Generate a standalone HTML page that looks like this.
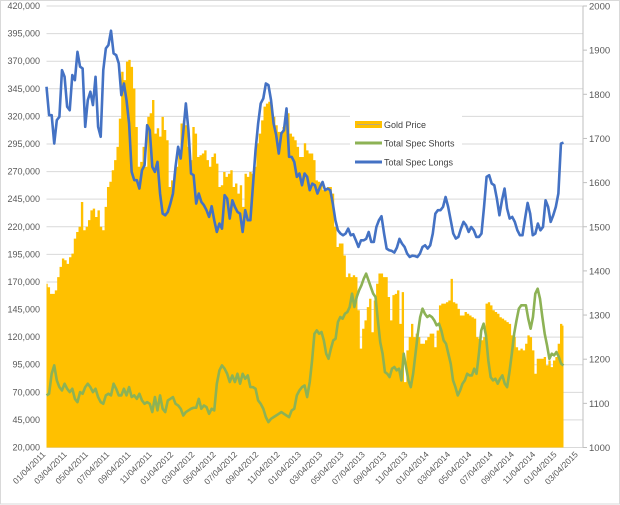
<!DOCTYPE html>
<html><head><meta charset="utf-8"><style>
html,body{margin:0;padding:0;background:#fff;}
svg{display:block;font-family:"Liberation Sans",sans-serif;}
</style></head><body>
<svg id="chart" width="620" height="505" viewBox="0 0 620 505" xmlns="http://www.w3.org/2000/svg">
<rect x="0.5" y="0.5" width="619" height="503.5" fill="#fff" stroke="#d9d9d9"/>
<g id="grid"></g>
<g id="gold"></g>
<g id="lines"></g>
<g id="axes"></g>
<g>
<rect x="350" y="113" width="112" height="58" fill="#fff"/>
<g><rect x="355" y="121" width="27" height="7" fill="#FFC000"/><line x1="357" y1="124.5" x2="380" y2="124.5" stroke="#a5a5a5" stroke-width="0.8"/><text x="384" y="128" font-size="9" fill="#404040">Gold Price</text></g>
<g><line x1="355" y1="143" x2="382" y2="143" stroke="#8DB255" stroke-width="3"/><text x="384" y="146.5" font-size="9" fill="#404040">Total Spec Shorts</text></g>
<g><line x1="355" y1="162" x2="382" y2="162" stroke="#4472C4" stroke-width="3"/><text x="384" y="165.5" font-size="9" fill="#404040">Total Spec Longs</text></g>
</g>
</svg>
<script>
// Values: positions in thousands of contracts (left axis), gold in USD (right axis)
const leftTicks = [20,45,70,95,120,145,170,195,220,245,270,295,320,345,370,395,420];
const rightTicks = [1000,1100,1200,1300,1400,1500,1600,1700,1800,1900,2000];
const xLabels = ["01/04/2011","03/04/2011","05/04/2011","07/04/2011","09/04/2011","11/04/2011","01/04/2012","03/04/2012","05/04/2012","07/04/2012","09/04/2012","11/04/2012","01/04/2013","03/04/2013","05/04/2013","07/04/2013","09/04/2013","11/04/2013","01/04/2014","03/04/2014","05/04/2014","07/04/2014","09/04/2014","11/04/2014","01/04/2015","03/04/2015"];
const totalWeeks = 218, splitWeek = 111;
const longsEarly = [346.8,321.1,321.1,295.4,316.6,319.6,361.9,355.9,328.7,325.6,357.4,352.8,378.5,365,363.4,310.5,334.7,342.3,330.2,355.9,310.5,301.5,361.9,381.6,384.6,397.6,377,375.5,368,339.2,349.8,334.7,313.5,269.7,262.2,262.2,254.6,271.2,275.8,312,307.5,274.3,269.7,278.8,250.1,231.9,230.4,233.4,241,250.1,274.3,292.4,281.8,306,331.7,307.5,268.2,266.7,241,250.1,242.5,239.5,235,228.9,238.6,225.9,215.3,222.9,218.3,248.6,245.5,227.4,244,238,233.4,231.9,215.3,235,225.9,225.9,257.6,289.4,313.5,331.7,336.2,349.8,348.3,334.7,313.5,303,286.3,304.5,307.5,327.2,283.3,283.3,278.8,265.2,268.2,257.6,268.2,265.2,253.1];
const longsLate = [263.7,259.1,257.6,250.1,256.1,260.6,253.1,254.6,253.1,241,225.9,216.8,213.8,212.3,213.8,218.3,212.3,213.2,207.7,201.7,207.7,207.7,209,215.3,206.2,206.2,219.8,225.9,229.5,213.8,200.2,198.7,198.1,196.6,201.1,209,204.7,201.7,195.7,192.6,193.8,193.5,192.6,195.7,201.7,203.2,200.2,203.2,213.8,231.9,235,235,238,247,238,225.9,213.8,209.3,210.8,218.3,224.4,221.3,215.3,219.8,216.8,210.8,210.8,213.8,238,265.2,266.7,259.1,257.6,245.5,230.4,244,254.6,236.5,227.4,228.9,224.4,216.8,212.3,212.3,227.4,241.6,231.9,212.3,213.8,222.9,216.8,219.8,244,238,224.4,230.4,238,250.1,295.4,296.3];
const shortsEarly = [67.2,68.7,86.8,94.4,80.8,74.7,71.7,77.8,73.2,70.2,73.2,64.1,61.1,70.2,68.7,74.7,77.8,74.7,70.2,73.2,65.7,61.1,59.6,67.2,68.7,67.2,77.8,73.2,67.2,67.2,73.2,67.2,74.7,65.7,67.2,64.1,68.7,62.6,59.6,61.1,59.6,52.1,65.7,53.6,67.2,55.1,52.1,62.6,64.1,65.7,59.6,58.1,55.1,49,52.1,53.6,55.1,56,56,64.1,55.1,58.1,56.6,50.5,55.1,53.6,77.8,89.8,94.4,91.4,86.8,79.3,85.3,79.3,86.8,77.8,86.8,82.3,85.3,74.7,74.7,73.2,62.6,59.6,55.1,47.5,43,46,47.5,49,50.5,52.1,50.5,49,47.5,53.6,55.1,67.2,71.7,74.7,76.2,65.7,79.3];
const shortsLate = [80.8,98.9,123.1,126.1,123.1,124.6,117,105,100.4,109.5,117,118.6,133.7,138.2,136.7,141.2,142.7,147.3,159.4,147.3,156.4,162.4,166.9,173,177.5,171.5,165.4,159.4,156.4,135.2,115.5,105,88.3,86.8,83.8,91.4,92.9,89.9,91.4,80.8,105,92.9,80.8,74.7,86.8,105,123.1,138.2,145.8,141.2,138.2,139.7,138.2,135.2,130.7,132.2,126.1,117,114,105,95.9,80.8,74.7,67.2,71.7,77.8,80.8,86.8,85.3,85.3,91.4,86.8,105,126.1,132.2,121.6,98.9,83.8,80.8,82.3,77.8,82.3,85.3,77.8,74.7,88.3,105,123.1,135.2,145.8,148.8,148.8,148.8,136.7,127.6,138.2,159.4,163.9,154.8,138.2,123.1,112.5,100.4,105,103.5,106.5,102,95.9,94.4];
const goldEarly = [1371,1363,1348,1348,1356,1386,1409,1428,1424,1416,1431,1439,1473,1488,1500,1556,1492,1500,1515,1537,1541,1522,1537,1500,1492,1545,1590,1602,1628,1651,1681,1745,1851,1832,1874,1878,1862,1813,1726,1636,1647,1681,1636,1749,1757,1787,1711,1723,1704,1749,1719,1696,1590,1605,1620,1636,1666,1734,1741,1730,1681,1651,1726,1711,1658,1662,1666,1673,1651,1636,1658,1666,1643,1590,1594,1624,1613,1620,1628,1590,1598,1575,1594,1545,1620,1613,1624,1620,1636,1689,1711,1741,1772,1779,1783,1775,1749,1730,1715,1715,1726,1753,1757,1711,1704,1696,1681,1658,1658,1689,1673,1666];
const goldLate = [1670,1666,1651,1605,1602,1598,1583,1586,1590,1590,1575,1500,1454,1462,1462,1435,1386,1394,1386,1390,1386,1311,1224,1269,1288,1318,1337,1261,1333,1371,1394,1394,1386,1386,1341,1288,1345,1348,1356,1280,1352,1148,1220,1250,1280,1250,1258,1250,1235,1235,1243,1250,1258,1258,1227,1265,1322,1326,1326,1329,1333,1382,1329,1326,1314,1299,1299,1307,1303,1299,1295,1292,1250,1246,1243,1250,1326,1329,1322,1311,1307,1303,1295,1292,1288,1284,1280,1254,1250,1227,1220,1224,1220,1235,1254,1250,1220,1167,1201,1201,1201,1205,1186,1197,1182,1197,1205,1235,1280,1276];

const NS = "http://www.w3.org/2000/svg";
const X0 = 46.5, X1 = 563.5, PR = 583, YT = 6, YB = 447.5;
const xW = w => X0 + w * (X1 - X0) / totalWeeks;
const yL = v => YB - (v - 20) / 400 * (YB - YT);
const yR = v => YB - (v - 1000) / 1000 * (YB - YT);
function mk(tag, attrs, parent) {
  const e = document.createElementNS(NS, tag);
  for (const k in attrs) e.setAttribute(k, attrs[k]);
  parent.appendChild(e); return e;
}
function pts(early, late) {
  const out = [];
  early.forEach((v, i) => out.push([i * splitWeek / (early.length - 1), v]));
  late.forEach((v, i) => { if (i > 0) out.push([splitWeek + i * (totalWeeks - splitWeek) / (late.length - 1), v]); });
  return out;
}
const grid = document.getElementById('grid');
leftTicks.forEach(t => {
  const l = mk('line', {x1: X0, x2: PR, y1: yL(t), y2: yL(t), stroke: '#d9d9d9', 'stroke-width': 1}, grid);
  
  
});
// gold area (stepped)
const gp = pts(goldEarly, goldLate);
let d = `M${X0},${YB}`;
gp.forEach((p, i) => {
  const xa = i === 0 ? X0 : (xW(gp[i-1][0]) + xW(p[0])) / 2;
  const xb = i === gp.length - 1 ? X1 : (xW(p[0]) + xW(gp[i+1][0])) / 2;
  d += ` L${xa.toFixed(2)},${yR(p[1]).toFixed(2)} L${xb.toFixed(2)},${yR(p[1]).toFixed(2)}`;
});
d += ` L${X1},${YB} Z`;
const goldPath = mk('path', {d: d, fill: '#FFC000'}, document.getElementById('gold'));


function line(early, late, color, name) {
  const p = pts(early, late).map(q => `${xW(q[0]).toFixed(2)},${yL(q[1]).toFixed(2)}`).join(' ');
  const e = mk('polyline', {points: p, fill: 'none', stroke: color, 'stroke-width': 2.6, 'stroke-linejoin': 'round'}, document.getElementById('lines'));
  
  
}
line(shortsEarly, shortsLate, '#8DB255', 'total-spec-shorts-line');
line(longsEarly, longsLate, '#4472C4', 'total-spec-longs-line');
const ax = document.getElementById('axes');
const ra = mk('line', {x1: PR, x2: PR, y1: YT, y2: YB, stroke: '#bfbfbf'}, ax);


leftTicks.forEach(t => {
  const e = mk('text', {x: 40, y: yL(t) + 3, 'font-size': 9, fill: '#595959', 'text-anchor': 'end'}, ax);
  e.textContent = t === 20 ? '20,000' : t + ',000';
  
  
});
rightTicks.forEach(t => {
  const tk = mk('line', {x1: PR, x2: PR + 4, y1: yR(t), y2: yR(t), stroke: '#bfbfbf'}, ax);
  
  
  const e = mk('text', {x: 589, y: yR(t) + 3.5, 'font-size': 9.5, fill: '#595959'}, ax);
  e.textContent = t;
  
  
});
const step = (578.5 - 46) / (xLabels.length - 1);
xLabels.forEach((s, i) => {
  const x = 46 + i * step;
  const e = mk('text', {x: 0, y: 0, 'font-size': 8.5, fill: '#595959', 'text-anchor': 'end', transform: `translate(${x.toFixed(1)},455) rotate(-45)`}, ax);
  e.textContent = s;
  
  
});
</script>
</body></html>
